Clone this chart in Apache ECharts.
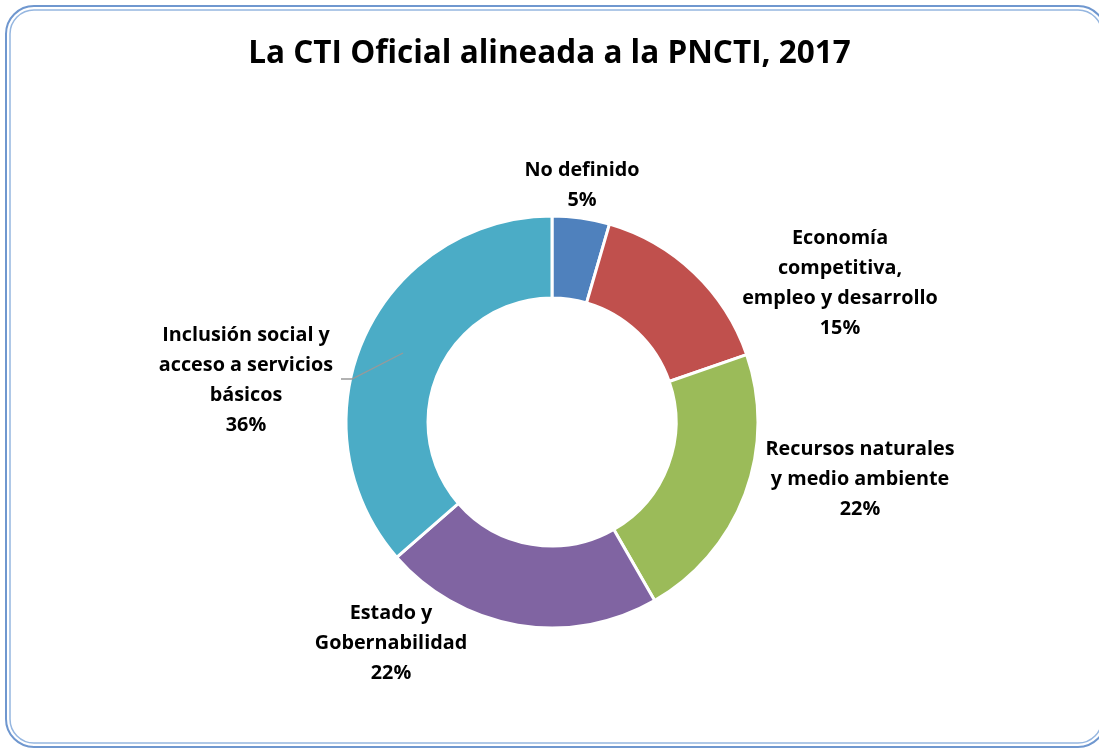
<!DOCTYPE html>
<html>
<head>
<meta charset="utf-8">
<script src="https://cdn.jsdelivr.net/npm/echarts@6/dist/echarts.min.js"></script>
<style>
  html, body { margin: 0; padding: 0; background: #fff; }
  #main { width: 1099px; height: 749px; }
</style>
</head>
<body>
<div id="main"></div>
<script>
// datos del grafico
const categories = [
  'No definido',
  'Economía\ncompetitiva,\nempleo y desarrollo',
  'Recursos naturales\ny medio ambiente',
  'Estado y\nGobernabilidad',
  'Inclusión social y\nacceso a servicios\nbásicos'
];
const shares = [4.5, 15.2, 22.0, 21.9, 36.4];
const colors = ['#4F81BD', '#C0504D', '#9BBB59', '#8064A2', '#4BACC6'];
// centro de cada etiqueta (como en el original de Excel)
const labelSpots = [[582, 185], [840, 283], [860, 479], [391, 643], [246, 380]];

const chart = echarts.init(document.getElementById('main'), null, { renderer: 'canvas' });

const font = '"Open Sans", Lato, sans-serif';
const pieCenter = [552, 422];
const pieRadius = [124, 206];

// serie base: solo los sectores
const baseData = categories.map((name, i) => ({
  name: name,
  value: shares[i],
  itemStyle: { color: colors[i] }
}));

// serie superpuesta transparente: etiquetas y linea guia encima de los sectores
const labelData = categories.map((name, i) => ({
  name: name,
  value: shares[i],
  labelLine: { show: i === 4 }
}));

const option = {
  animation: false,
  backgroundColor: '#fff',
  title: {
    text: 'La CTI Oficial alineada a la PNCTI, 2017',
    left: 'center',
    top: 33,
    textStyle: {
      fontFamily: font,
      fontSize: 31.5,
      fontWeight: 'bold',
      color: '#000'
    }
  },
  graphic: [
    {
      type: 'rect',
      shape: { x: 6, y: 6, width: 1100, height: 741, r: 28 },
      style: { fill: 'none', stroke: '#6F97CF', lineWidth: 2 }
    },
    {
      type: 'rect',
      shape: { x: 10, y: 10, width: 1092, height: 733, r: 24 },
      style: { fill: 'none', stroke: '#95B6E0', lineWidth: 1.5 }
    }
  ],
  series: [
    {
      type: 'pie',
      z: 2,
      center: pieCenter,
      radius: pieRadius,
      startAngle: 90,
      clockwise: true,
      silent: true,
      data: baseData,
      itemStyle: { borderColor: '#fff', borderWidth: 3 },
      label: { show: false },
      labelLine: { show: false }
    },
    {
      type: 'pie',
      z: 3,
      center: pieCenter,
      radius: pieRadius,
      startAngle: 90,
      clockwise: true,
      silent: true,
      data: labelData,
      itemStyle: { color: 'rgba(0,0,0,0)', borderWidth: 0 },
      label: {
        show: true,
        position: 'outside',
        formatter: p => p.name + '\n' + Math.round(p.value) + '%',
        fontFamily: font,
        fontSize: 19.8,
        fontWeight: 'bold',
        lineHeight: 30,
        color: '#000',
        align: 'center'
      },
      labelLine: { lineStyle: { color: '#999999', width: 1.3 } },
      labelLayout: function (params) {
        const i = params.dataIndex;
        const out = {
          x: labelSpots[i][0],
          y: labelSpots[i][1],
          align: 'center',
          verticalAlign: 'middle'
        };
        if (i === 4) {
          out.labelLinePoints = [[403, 353], [352, 379], [341, 379]];
        }
        return out;
      }
    }
  ]
};

chart.setOption(option);
</script>
</body>
</html>
